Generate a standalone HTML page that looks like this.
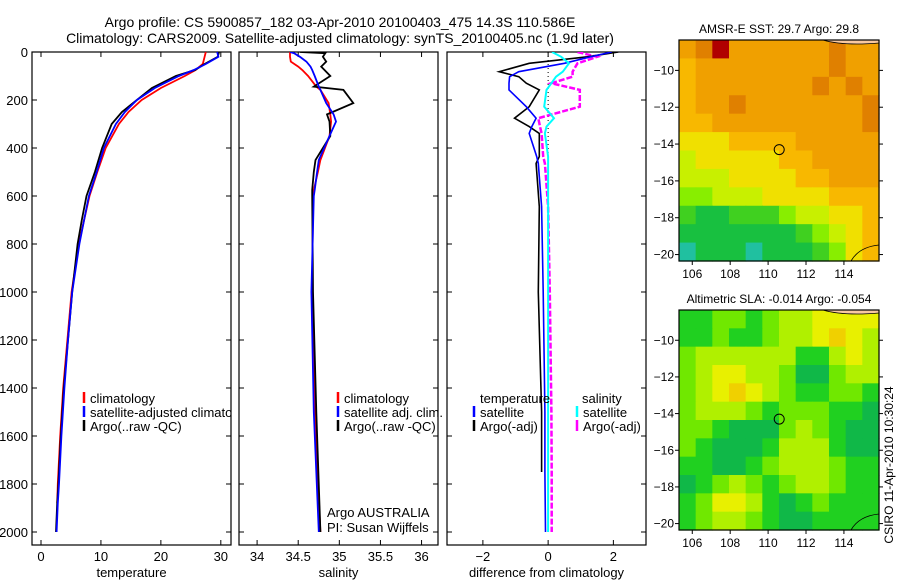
<!DOCTYPE html>
<html><head><meta charset="utf-8"><style>
body{margin:0;background:#fff}
svg{display:block}
text{font-family:"Liberation Sans",sans-serif;font-size:13px;fill:#000}
.t{font-size:14px}
.m{font-size:12px}
</style></head><body>
<svg id="c" width="900" height="580" viewBox="0 0 900 580">
<text class="t" x="340" y="27" text-anchor="middle">Argo profile: CS 5900857_182 03-Apr-2010 20100403_475 14.3S 110.586E</text>
<text class="t" x="340" y="43" text-anchor="middle">Climatology: CARS2009. Satellite-adjusted climatology: synTS_20100405.nc (1.9d later)</text>
</svg>
<script>
// ---- data ----
const depthTicks=[0,200,400,600,800,1000,1200,1400,1600,1800,2000];
const tempTicks=[0,10,20,30];
const salTicks=[34,34.5,35,35.5,36];
const diffTicks=[-2,0,2];
const tDepth=[0,20,50,75,100,150,200,250,300,400,500,600,700,800,1000,1200,1400,1600,1800,1880,2000];
const tClim=[27.5,27.3,27,25.8,24,20,16.8,14.6,13,10.8,9.4,8.1,7.2,6.3,5.1,4.4,3.7,3.2,2.8,2.7,null];
const tSat=[29.4,29.6,27.5,25.5,23,19,16,14,12.5,10.5,9.3,8,7.2,6.4,5.2,4.5,3.9,3.4,3,2.8,2.6];
const tArgo=[29.7,29.5,27.3,25.7,22.5,18.5,16,13.5,11.8,10.2,9,7.6,6.8,6.1,5.2,4.5,3.8,3.3,2.9,2.7,2.5];
const sDepth=[0,5,20,40,61,75,100,144,158,213,260,290,350,450,500,575,600,1000,1500,2000];
const sClim=[34.4,34.4,34.4,34.41,34.5,34.55,34.62,34.72,34.77,34.87,34.89,34.9,34.88,34.77,34.74,34.69,34.68,34.67,34.7,34.77];
const sSat=[34.4,34.45,34.52,34.6,34.65,34.67,34.7,34.75,34.77,34.84,34.93,34.96,34.88,34.75,34.73,34.7,34.69,34.66,34.69,34.75];
const sArgo=[34.52,34.83,34.8,34.84,34.78,34.82,34.89,34.69,35.05,35.17,34.85,34.88,34.89,34.71,34.69,34.67,34.67,34.68,34.72,34.77];
const dDepth=[0,20,47,82,103,130,158,228,276,311,339,436,464,644,1000,1500,1750,2000];
const dTArgo=[2.15,1.2,-0.58,-1.5,-0.9,-0.67,-0.27,-0.58,-1.03,-0.58,-0.27,-0.27,-0.37,-0.27,-0.3,-0.2,-0.2,null];
const dTSat=[1.95,1.3,0.5,-0.9,-1.18,-1.2,-1.2,-0.67,-0.37,-0.5,-0.58,-0.35,-0.3,-0.2,-0.15,-0.1,-0.1,-0.08];
const dSSat=[0.12,0.4,0.64,0.45,0.24,0.1,-0.05,-0.12,0.18,-0.05,-0.1,0,0,0,0,0,0,0];
const dSArgo=[0.9,1.5,0.9,0.75,0.75,0.1,0.97,0.97,-0.3,-0.25,-0.2,-0.15,-0.1,0,0.05,0.1,0.11,0.11];
const lonTicks=[106,108,110,112,114];
const latTicks=[-10,-12,-14,-16,-18,-20];
const sstPalette=['#20c0a0','#18c040','#40d020','#88ee00','#c8f000','#f0e000','#f8b800','#f0a000','#e08000','#b00000'];
const sstGrid=[
[7,8,9,7,7,7,7,7,7,8,7,7],[6,7,7,7,7,7,7,7,7,8,7,7],[6,7,7,7,7,7,7,7,8,7,8,7],
[6,7,7,8,7,7,7,7,7,7,7,8],[6,6,7,7,7,7,7,7,7,7,7,8],[5,5,5,6,6,6,6,7,7,7,7,7],
[4,5,5,5,5,5,6,6,7,7,7,7],[4,4,4,5,5,5,5,6,6,7,7,7],[3,3,4,4,4,5,5,5,5,6,6,6],
[2,1,1,2,2,2,3,4,4,5,5,6],[1,1,1,1,1,1,1,2,3,4,5,6],[0,1,1,1,0,1,1,1,2,3,5,6]];
const slaPalette=['#10b848','#20d020','#70e800','#b0f000','#e8f000','#f0d000'];
const slaGrid=[
[1,1,2,2,1,2,3,3,4,4,4,4],[1,1,2,1,1,2,3,3,4,5,4,3],[2,3,3,3,3,3,3,1,1,3,4,3],
[2,3,4,4,3,3,2,0,0,2,3,3],[2,3,4,5,4,3,2,1,1,2,2,1],[2,3,3,3,2,1,2,2,2,1,1,0],
[2,2,1,0,0,0,2,3,2,1,0,0],[2,1,0,0,0,1,3,3,3,1,0,0],[1,1,0,0,1,2,3,3,3,2,1,1],
[0,1,2,3,2,1,2,3,3,2,1,1],[1,2,4,4,3,1,0,1,2,1,1,1],[1,2,3,3,2,1,0,0,1,1,1,1]];
const argoLon=110.586, argoLat=-14.3;

// ---- drawing ----
const NS='http://www.w3.org/2000/svg', svg=document.getElementById('c');
function mk(tag,attrs,parent){const e=document.createElementNS(NS,tag);for(const k in attrs)e.setAttribute(k,attrs[k]);(parent||svg).appendChild(e);return e;}
function txt(s,x,y,anchor,parent){const t=mk('text',{x:x,y:y,'text-anchor':anchor||'start'},parent);t.textContent=s;return t;}
const Y=d=>52+d*0.24, PT=52, PB=545;
function panel(name,x0,x1,xmin,xmax,ticks,label,showY){
  const g=mk('g',{});
  
  
  const X=v=>x0+(v-xmin)/(xmax-xmin)*(x1-x0);
  const clip=mk('clipPath',{id:'clip-'+name},g);mk('rect',{x:x0,y:PT,width:x1-x0,height:PB-PT},clip);
  const frame=mk('rect',{x:x0,y:PT,width:x1-x0,height:PB-PT,fill:'none',stroke:'#000','stroke-width':1.2},g);
  
  
  ticks.forEach(v=>{const x=X(v);mk('line',{x1:x,y1:PB,x2:x,y2:PB-5,stroke:'#000'},g);mk('line',{x1:x,y1:PT,x2:x,y2:PT+5,stroke:'#000'},g);
    const t=txt(String(v).replace('-','\u2212'),x,561,'middle',g);});
  depthTicks.forEach(d=>{const y=Y(d);mk('line',{x1:x0,y1:y,x2:x0+5,y2:y,stroke:'#000'},g);mk('line',{x1:x1,y1:y,x2:x1-5,y2:y,stroke:'#000'},g);
    if(showY){const t=txt(String(d),x0-4,y+5,'end',g);}});
  const xl=txt(label,(x0+x1)/2,577,'middle',g);
  
  
  return {g,X,clipId:'clip-'+name};
}
function line(p,depths,vals,color,w,name,dash){
  let pts=[];depths.forEach((d,i)=>{if(vals[i]!==null)pts.push(p.X(vals[i]).toFixed(1)+','+Y(d).toFixed(1));});
  const l=mk('polyline',{points:pts.join(' '),fill:'none',stroke:color,'stroke-width':w,'clip-path':'url(#'+p.clipId+')'},p.g);
  if(dash)l.setAttribute('stroke-dasharray',dash);
  
  
}
function legend(p,x,y,color,label,clip){
  mk('line',{x1:x,y1:y-11,x2:x,y2:y,stroke:color,'stroke-width':2.5},p.g);
  const t=txt(label,x+6,y,'start',p.g);
  if(clip)t.setAttribute('clip-path','url(#'+p.clipId+')');
  
  
}
const p1=panel('temperature-panel',32,231,-1.5,31.7,tempTicks,'temperature',true);
line(p1,tDepth,tClim,'#f00',1.8,'temp-climatology-line');
line(p1,tDepth,tArgo,'#000',1.8,'temp-argo-line');
line(p1,tDepth,tSat,'#00f',1.8,'temp-satellite-line');
legend(p1,84,403,'#f00','climatology',true);legend(p1,84,417,'#00f','satellite-adjusted climatology',true);legend(p1,84,431,'#000','Argo(..raw -QC)',true);

const p2=panel('salinity-panel',239,438,33.78,36.2,salTicks,'salinity',false);
line(p2,sDepth,sClim,'#f00',1.8,'sal-climatology-line');
line(p2,sDepth,sArgo,'#000',1.8,'sal-argo-line');
line(p2,sDepth,sSat,'#00f',1.8,'sal-satellite-line');
legend(p2,338,403,'#f00','climatology');legend(p2,338,417,'#00f','satellite adj. clim.');legend(p2,338,431,'#000','Argo(..raw -QC)');
txt('Argo AUSTRALIA',327,517,'start',p2.g);txt('PI: Susan Wijffels',327,532,'start',p2.g);

const p3=panel('difference-panel',447,646,-3.1,3.0,diffTicks,'difference from climatology',false);
mk('line',{x1:p3.X(0),y1:52,x2:p3.X(0),y2:170,stroke:'#000','stroke-dasharray':'1,3'},p3.g);
line(p3,dDepth,dSArgo,'#f0f',2.5,'sal-diff-argo-line','6,2');
line(p3,dDepth,dTArgo,'#000',1.6,'temp-diff-argo-line');
line(p3,dDepth,dTSat,'#00f',1.6,'temp-diff-satellite-line');
line(p3,dDepth,dSSat,'#0ff',2,'sal-diff-satellite-line');
txt('temperature',480,403,'start',p3.g);txt('salinity',582,403,'start',p3.g);
legend(p3,474,417,'#00f','satellite');legend(p3,577,417,'#0ff','satellite');
legend(p3,474,431,'#000','Argo(-adj)');legend(p3,577,431,'#f0f','Argo(-adj)');

function map(name,x0,y0,w,h,grid,pal,title){
  const g=mk('g',{});
  
  
  const lon0=105.3,lon1=115.85,lat0=-8.35,lat1=-20.35;
  const X=v=>x0+(v-lon0)/(lon1-lon0)*w, Yl=v=>y0+(v-lat0)/(lat1-lat0)*h;
  const rows=grid.length,cols=grid[0].length,cw=w/cols,ch=h/rows;
  grid.forEach((r,i)=>r.forEach((v,j)=>{const c=mk('rect',{x:x0+j*cw,y:y0+i*ch,width:cw+0.6,height:ch+0.6,fill:pal[v]},g);
    
    }));
  mk('path',{d:`M${x0+w*0.72},${y0} q20,6 ${w*0.28},3 L${x0+w},${y0} Z`,fill:'#f8c8a0',stroke:'#000','stroke-width':0.8},g);
  mk('path',{d:`M${x0+w*0.86},${y0+h} q8,-14 ${w*0.14},-16`,fill:'none',stroke:'#000','stroke-width':0.8},g);
  mk('rect',{x:x0,y:y0,width:w,height:h,fill:'none',stroke:'#000','stroke-width':1.2},g);
  const m=mk('circle',{cx:X(argoLon),cy:Yl(argoLat),r:5,fill:'none',stroke:'#000'},g);
  
  
  lonTicks.forEach(v=>{mk('line',{x1:X(v),y1:y0+h,x2:X(v),y2:y0+h+4,stroke:'#000'},g);const t=txt(String(v),X(v),y0+h+17,'middle',g);t.setAttribute('class','m');});
  latTicks.forEach(v=>{mk('line',{x1:x0,y1:Yl(v),x2:x0-4,y2:Yl(v),stroke:'#000'},g);mk('line',{x1:x0+w,y1:Yl(v),x2:x0+w+4,y2:Yl(v),stroke:'#000'},g);const t=txt(String(v).replace('-','\u2212'),x0-5,Yl(v)+4,'end',g);t.setAttribute('class','m');});
  const t=txt(title,x0+w/2,y0-7,'middle',g);
  t.setAttribute('class','m');
  
  
}
map('sst-map',679,40,200,221,sstGrid,sstPalette,'AMSR-E SST: 29.7 Argo: 29.8');
map('sla-map',679,310,200,220,slaGrid,slaPalette,'Altimetric SLA: -0.014 Argo: -0.054');
const ft=txt('CSIRO 11-Apr-2010 10:30:24',0,0,'middle');
ft.setAttribute('class','m');
ft.setAttribute('transform','translate(893,465) rotate(-90)');


</script>
</body></html>
